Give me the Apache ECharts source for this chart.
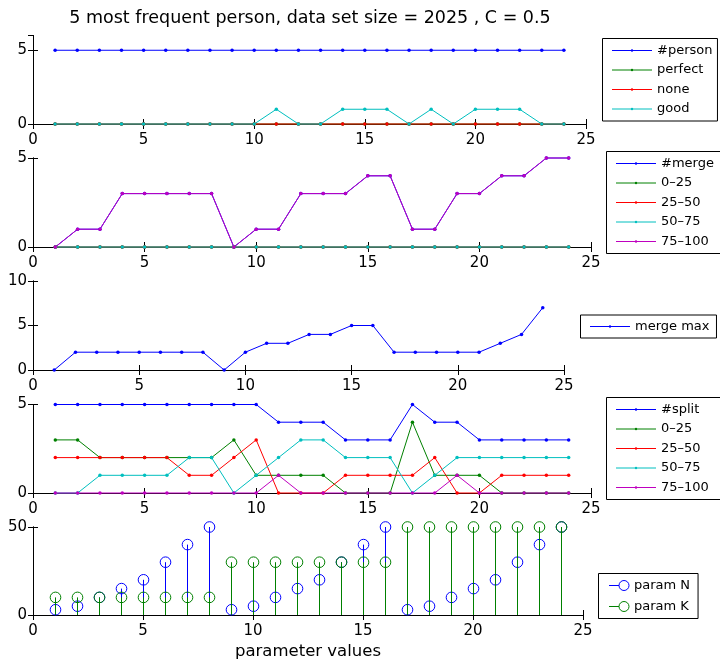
<!DOCTYPE html>
<html>
<head>
<meta charset="utf-8">
<script src="https://cdn.jsdelivr.net/npm/echarts@6/dist/echarts.min.js"></script>
<style>
  html, body { margin: 0; padding: 0; background: #fff; }
  #chart { width: 720px; height: 661px; }
</style>
</head>
<body>
<div id="chart"></div>
<script>
// parameter index shared by all five panels
const paramIndex = [1, 2, 3, 4, 5, 6, 7, 8, 9, 10, 11, 12, 13, 14, 15, 16, 17, 18, 19, 20, 21, 22, 23, 24];
const xTicks = [0, 5, 10, 15, 20, 25];

// panel 1: person counts
const personCount = [5, 5, 5, 5, 5, 5, 5, 5, 5, 5, 5, 5, 5, 5, 5, 5, 5, 5, 5, 5, 5, 5, 5, 5];
const perfect     = [0, 0, 0, 0, 0, 0, 0, 0, 0, 0, 0, 0, 0, 0, 0, 0, 0, 0, 0, 0, 0, 0, 0, 0];
const none        = [0, 0, 0, 0, 0, 0, 0, 0, 0, 0, 0, 0, 0, 0, 0, 0, 0, 0, 0, 0, 0, 0, 0, 0];
const good        = [0, 0, 0, 0, 0, 0, 0, 0, 0, 0, 1, 0, 0, 1, 1, 1, 0, 1, 0, 1, 1, 1, 0, 0];

// panel 2: merges by overlap bucket
const mergeCount   = [0, 1, 1, 3, 3, 3, 3, 3, 0, 1, 1, 3, 3, 3, 4, 4, 1, 1, 3, 3, 4, 4, 5, 5];
const merge0to25   = [0, 0, 0, 0, 0, 0, 0, 0, 0, 0, 0, 0, 0, 0, 0, 0, 0, 0, 0, 0, 0, 0, 0, 0];
const merge25to50  = [0, 0, 0, 0, 0, 0, 0, 0, 0, 0, 0, 0, 0, 0, 0, 0, 0, 0, 0, 0, 0, 0, 0, 0];
const merge50to75  = [0, 0, 0, 0, 0, 0, 0, 0, 0, 0, 0, 0, 0, 0, 0, 0, 0, 0, 0, 0, 0, 0, 0, 0];
const merge75to100 = [0, 1, 1, 3, 3, 3, 3, 3, 0, 1, 1, 3, 3, 3, 4, 4, 1, 1, 3, 3, 4, 4, 5, 5];

// panel 3: largest merge
const mergeMax = [0, 2, 2, 2, 2, 2, 2, 2, 0, 2, 3, 3, 4, 4, 5, 5, 2, 2, 2, 2, 2, 3, 4, 7];

// panel 4: splits by overlap bucket
const splitCount   = [5, 5, 5, 5, 5, 5, 5, 5, 5, 5, 4, 4, 4, 3, 3, 3, 5, 4, 4, 3, 3, 3, 3, 3];
const split0to25   = [3, 3, 2, 2, 2, 2, 2, 2, 3, 1, 1, 1, 1, 0, 0, 0, 4, 1, 1, 1, 0, 0, 0, 0];
const split25to50  = [2, 2, 2, 2, 2, 2, 1, 1, 2, 3, 0, 0, 0, 1, 1, 1, 1, 2, 0, 0, 1, 1, 1, 1];
const split50to75  = [0, 0, 1, 1, 1, 1, 2, 2, 0, 1, 2, 3, 3, 2, 2, 2, 0, 1, 2, 2, 2, 2, 2, 2];
const split75to100 = [0, 0, 0, 0, 0, 0, 0, 0, 0, 0, 1, 0, 0, 0, 0, 0, 0, 0, 1, 0, 0, 0, 0, 0];

// panel 5: parameter settings
const paramN = [3, 5, 10, 15, 20, 30, 40, 50, 3, 5, 10, 15, 20, 30, 40, 50, 3, 5, 10, 15, 20, 30, 40, 50];
const paramK = [10, 10, 10, 10, 10, 10, 10, 10, 30, 30, 30, 30, 30, 30, 30, 30, 50, 50, 50, 50, 50, 50, 50, 50];

const BLUE = '#0000ff', GREEN = '#008000', RED = '#ff0000', CYAN = '#00bfbf', MAGENTA = '#bf00bf';
const FONT = 'DejaVu Sans';

// panel boxes in pixels: left, top, width, height, y max
const panels = [
  { left: 33, top: 35.5, width: 553, height: 88.5, ymax: 6 },
  { left: 33, top: 158,  width: 558, height: 89,   ymax: 5 },
  { left: 33, top: 281,  width: 531, height: 89,   ymax: 10 },
  { left: 33, top: 404.5, width: 558, height: 88.5, ymax: 5 },
  { left: 33, top: 527,  width: 550, height: 88,   ymax: 50 }
];

const grid = [], xAxis = [], yAxis = [];
panels.forEach((p, i) => {
  grid.push({ left: p.left, top: p.top, width: p.width, height: p.height, containLabel: false });
  const yInterval = p.ymax === 50 ? 50 : 5;
  const axisLine = { show: true, lineStyle: { color: '#000', width: 1 } };
  const tick = { show: true, inside: true, length: 5, lineStyle: { color: '#000', width: 1 } };
  // bottom and top x axes (the top one only mirrors the ticks)
  xAxis.push({
    gridIndex: i, type: 'value', position: 'bottom', min: 0, max: 25, interval: 5,
    axisLine, axisTick: tick, splitLine: { show: false },
    axisLabel: { show: true, color: '#000', fontSize: 15, fontFamily: FONT, margin: 9 },
    name: i === 4 ? 'parameter values' : '', nameLocation: 'middle', nameGap: 28,
    nameTextStyle: { color: '#000', fontSize: 16.5, fontFamily: FONT }
  });
  xAxis.push({
    gridIndex: i, type: 'value', position: 'top', min: 0, max: 25, interval: 5,
    axisLine, axisTick: tick, splitLine: { show: false }, axisLabel: { show: false }
  });
  yAxis.push({
    gridIndex: i, type: 'value', position: 'left', min: 0, max: p.ymax, interval: yInterval,
    axisLine, axisTick: tick, splitLine: { show: false },
    axisLabel: { show: true, color: '#000', fontSize: 15, fontFamily: FONT, margin: 6, showMaxLabel: p.ymax % yInterval === 0 }
  });
  yAxis.push({
    gridIndex: i, type: 'value', position: 'right', min: 0, max: p.ymax, interval: yInterval,
    axisLine, axisTick: tick, splitLine: { show: false }, axisLabel: { show: false }
  });
});

function pairs(values) {
  return paramIndex.map((x, k) => [x, values[k]]);
}

function lineSeries(name, values, color, panel) {
  return {
    name, type: 'line', data: pairs(values),
    xAxisIndex: panel * 2, yAxisIndex: panel * 2,
    symbol: 'circle', symbolSize: 3.5, showSymbol: true,
    itemStyle: { color }, lineStyle: { color, width: 1 },
    emphasis: { disabled: true }, clip: false
  };
}

// stem plot: vertical line from zero to the value, open circle on top
function stemSeries(name, values, color, panel) {
  return {
    name, type: 'custom', data: pairs(values),
    xAxisIndex: panel * 2, yAxisIndex: panel * 2,
    itemStyle: { color },
    renderItem(params, api) {
      const base = api.coord([api.value(0), 0]);
      const top = api.coord([api.value(0), api.value(1)]);
      const sx = Math.round(base[0]) + 0.5;
      return {
        type: 'group',
        children: [
          { type: 'line', shape: { x1: sx, y1: base[1], x2: sx, y2: top[1] },
            style: { stroke: color, lineWidth: 1 } },
          { type: 'circle', shape: { cx: sx, cy: top[1], r: 5.3 },
            style: { fill: 'none', stroke: color, lineWidth: 1 } }
        ]
      };
    }
  };
}

const series = [
  lineSeries('#person', personCount, BLUE, 0),
  lineSeries('perfect', perfect, GREEN, 0),
  lineSeries('none', none, RED, 0),
  lineSeries('good', good, CYAN, 0),

  lineSeries('#merge', mergeCount, BLUE, 1),
  lineSeries('0\u201325', merge0to25, GREEN, 1),
  lineSeries('25\u201350', merge25to50, RED, 1),
  lineSeries('50\u201375', merge50to75, CYAN, 1),
  lineSeries('75\u2013100', merge75to100, MAGENTA, 1),

  lineSeries('merge max', mergeMax, BLUE, 2),

  lineSeries('#split', splitCount, BLUE, 3),
  lineSeries('0\u201325 ', split0to25, GREEN, 3),
  lineSeries('25\u201350 ', split25to50, RED, 3),
  lineSeries('50\u201375 ', split50to75, CYAN, 3),
  lineSeries('75\u2013100 ', split75to100, MAGENTA, 3),

  stemSeries('param N', paramN, BLUE, 4),
  stemSeries('param K', paramK, GREEN, 4)
];

function makeLegend(names, left, top, padding, extra) {
  return Object.assign({
    orient: 'vertical', left, top, padding,
    data: names,
    itemWidth: 40, itemHeight: 3, itemGap: 3.5,
    backgroundColor: '#fff', borderColor: '#000', borderWidth: 1, borderRadius: 0,
    lineStyle: { width: 1 },
    textStyle: { color: '#000', fontSize: 13, fontFamily: FONT, lineHeight: 16 },
    selectedMode: false
  }, extra || {});
}

const stemIcon = 'path://M0,5 L10,5 M20,5 A5,5 0 1,1 10,5 A5,5 0 1,1 20,5';

const legend = [
  makeLegend(['#person', 'perfect', 'none', 'good'], 602.5, 38.5, [4, 5, 4, 9]),
  makeLegend(['#merge', '0\u201325', '25\u201350', '50\u201375', '75\u2013100'], 606.5, 151.5, [4, 8, 4, 9]),
  makeLegend(['merge max'], 580.5, 315, [3.5, 7, 3.5, 9]),
  makeLegend(['#split', '0\u201325 ', '25\u201350 ', '50\u201375 ', '75\u2013100 '], 606.5, 397.5, [4, 8, 4, 9]),
  makeLegend([
    { name: 'param N', icon: stemIcon, itemStyle: { color: 'none', borderColor: BLUE, borderWidth: 1 } },
    { name: 'param K', icon: stemIcon, itemStyle: { color: 'none', borderColor: GREEN, borderWidth: 1 } }
  ], 598.5, 573.5, [4, 8, 4, 8], { itemWidth: 20, itemHeight: 10, itemGap: 5 })
];

const chart = echarts.init(document.getElementById('chart'), null, { renderer: 'canvas' });
chart.setOption({
  animation: false,
  backgroundColor: '#fff',
  title: {
    text: '5 most frequent person, data set size = 2025 , C = 0.5',
    left: 305, top: 4, textAlign: 'center',
    textStyle: { color: '#000', fontSize: 17.5, fontWeight: 'normal', fontFamily: FONT }
  },
  grid, xAxis, yAxis, legend, series
});
</script>
</body>
</html>
